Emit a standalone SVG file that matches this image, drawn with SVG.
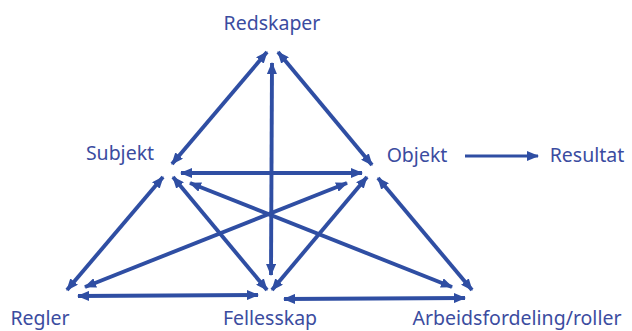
<svg xmlns="http://www.w3.org/2000/svg" width="632" height="331" viewBox="0 0 632 331">
<defs>
<marker id="ah" markerUnits="userSpaceOnUse" markerWidth="12" markerHeight="10" refX="11" refY="5" orient="auto-start-reverse" viewBox="0 0 12 10">
<path d="M0,0 L12,5 L0,10 z" fill="#2F4EA3"/>
</marker>
</defs>
<style>
.c line{stroke:#2F4EA3;stroke-width:3.9;marker-start:url(#ah);marker-end:url(#ah)}
.c line.one{marker-start:none;stroke-width:3}
text{font-family:"Noto Sans","Liberation Sans",sans-serif;font-size:19.5px;fill:#3B4CA0}
</style>
<rect width="632" height="331" fill="#ffffff"/>
<g class="c" id="connectors">
<line x1="267" y1="52" x2="172" y2="164"/>
<line x1="278" y1="52" x2="372" y2="165"/>
<line x1="272" y1="63" x2="271" y2="275"/>
<line x1="181" y1="173" x2="362" y2="173"/>
<line x1="163" y1="177" x2="67" y2="290"/>
<line x1="173" y1="177" x2="267" y2="290"/>
<line x1="190" y1="183" x2="452" y2="287"/>
<line x1="347" y1="183" x2="85" y2="287"/>
<line x1="367" y1="177" x2="272" y2="290"/>
<line x1="378" y1="178" x2="472" y2="290"/>
<line x1="78" y1="296" x2="258" y2="295"/>
<line x1="284" y1="299" x2="465" y2="298"/>
<line class="one" x1="465" y1="156" x2="538" y2="156"/>
</g>
<g id="redskaper"><text x="272" y="30" text-anchor="middle">Redskaper</text></g>
<g id="subjekt"><text x="120" y="160" text-anchor="middle">Subjekt</text></g>
<g id="objekt"><text x="417" y="162" text-anchor="middle">Objekt</text></g>
<g id="resultat"><text x="587" y="162" text-anchor="middle">Resultat</text></g>
<g id="regler"><text x="40" y="325" text-anchor="middle">Regler</text></g>
<g id="fellesskap"><text x="270" y="325" text-anchor="middle">Fellesskap</text></g>
<g id="arbeidsfordeling"><text x="517" y="325" text-anchor="middle">Arbeidsfordeling/roller</text></g>
</svg>
